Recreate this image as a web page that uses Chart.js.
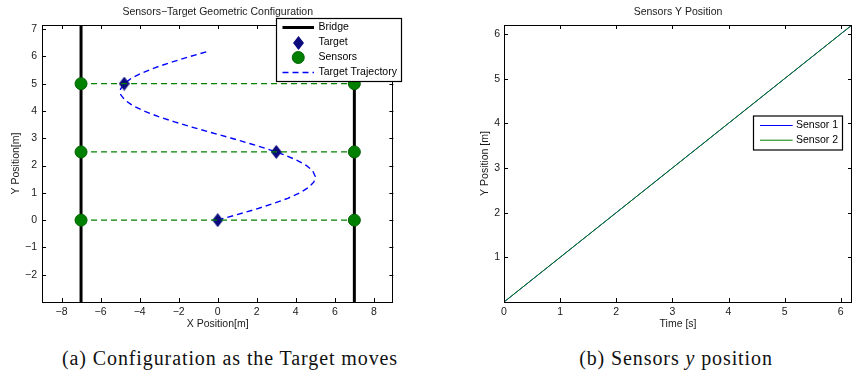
<!DOCTYPE html>
<html><head><meta charset="utf-8">
<script src="https://cdn.jsdelivr.net/npm/chart.js@4"></script>
<style>
html,body{margin:0;padding:0;background:#fff;width:853px;height:382px;overflow:hidden;}
#wrapA{position:absolute;left:0;top:0;width:430px;height:340px;}
#wrapB{position:absolute;left:430px;top:0;width:423px;height:340px;}
.cap{position:absolute;top:347px;width:400px;text-align:center;line-height:22px;font-family:"Liberation Serif","Times New Roman",serif;font-size:20px;letter-spacing:0.9px;color:#111;white-space:nowrap;}
</style></head><body>
<div id="wrapA"><canvas id="cA" width="430" height="340"></canvas></div>
<div id="wrapB"><canvas id="cB" width="423" height="340"></canvas></div>
<div class="cap" style="left:30px">(a) Configuration as the Target moves</div>
<div class="cap" style="left:476px">(b) Sensors <i>y</i> position</div>
<script>
// ---------- data ----------
// Left panel: geometric configuration
const bridgeX = [-7, 7];
const sensorX = [-7, 7];
const sensorY = [0, 2.5, 5];
const targetX = [0, 3, -4.79];
const targetY = [0, 2.5, 5];
const trajY = [0, 0.2, 0.4, 0.6, 0.8, 1.0, 1.2, 1.4, 1.6, 1.8, 2.0, 2.2, 2.4, 2.6, 2.8, 3.0,
               3.2, 3.4, 3.6, 3.8, 4.0, 4.2, 4.4, 4.6, 4.8, 5.0, 5.2, 5.4, 5.6, 5.8, 6.0, 6.2];
const trajX = [0, 0.99, 1.95, 2.82, 3.59, 4.21, 4.66, 4.93, 5.0, 4.87, 4.55, 4.04, 3.38, 2.58, 1.67, 0.71,
               -0.29, -1.28, -2.21, -3.06, -3.78, -4.36, -4.76, -4.97, -4.98, -4.79, -4.42, -3.86, -3.16, -2.32, -1.40, -0.42];
const xTicksA = [-8, -6, -4, -2, 0, 2, 4, 6, 8];
const yTicksA = [-2, -1, 0, 1, 2, 3, 4, 5, 6, 7];
const xMinA = -9, xMaxA = 9, yMinA = -3, yMaxA = 7.15;

// Right panel: sensors y position
const timeS = [0, 1, 2, 3, 4, 5, 6, 6.2];
const sensor1Y = [0, 1, 2, 3, 4, 5, 6, 6.2];
const sensor2Y = [0, 1, 2, 3, 4, 5, 6, 6.2];
const xTicksB = [0, 1, 2, 3, 4, 5, 6];
const yTicksB = [1, 2, 3, 4, 5, 6];
const xMinB = 0, xMaxB = 6.2, yMinB = 0, yMaxB = 6.2;

// ---------- styling ----------
const FONT = '"Liberation Sans", Arial, Helvetica, sans-serif';
const FS = 10.5;
Chart.defaults.font.family = FONT;
Chart.defaults.font.size = FS;
Chart.defaults.color = '#1a1a1a';
Chart.defaults.animation = false;

const fmt = v => v < 0 ? '\u2212' + Math.abs(v) : String(v);

function diamondImg(w, h, color) {
  const c = document.createElement('canvas');
  c.width = w; c.height = h;
  const g = c.getContext('2d');
  g.fillStyle = color;
  g.beginPath();
  g.moveTo(w / 2, 0); g.lineTo(w, h / 2); g.lineTo(w / 2, h); g.lineTo(0, h / 2);
  g.closePath(); g.fill();
  return c;
}
const DIAMOND = diamondImg(11, 14, '#0b0b7e');

const framePlugin = {
  id: 'mlFrame',
  afterDatasetsDraw(chart, args, opts) {
    const {ctx, chartArea: a} = chart;
    const sx = chart.scales.x, sy = chart.scales.y;
    const L = 4;
    ctx.save();
    ctx.strokeStyle = '#000';
    ctx.lineWidth = 1;
    ctx.beginPath();
    sx.ticks.forEach(t => {
      const p = Math.round(sx.getPixelForValue(t.value)) + 0.5;
      ctx.moveTo(p, a.bottom); ctx.lineTo(p, a.bottom - L);
      ctx.moveTo(p, a.top); ctx.lineTo(p, a.top + L);
    });
    sy.ticks.forEach(t => {
      const p = Math.round(sy.getPixelForValue(t.value)) + 0.5;
      ctx.moveTo(a.left, p); ctx.lineTo(a.left + L, p);
      ctx.moveTo(a.right, p); ctx.lineTo(a.right - L, p);
    });
    ctx.stroke();
    ctx.strokeRect(Math.round(a.left) + 0.5, Math.round(a.top) + 0.5,
                   Math.round(a.right) - Math.round(a.left) - 1, Math.round(a.bottom) - Math.round(a.top));
    ctx.restore();
  }
};

const legendPlugin = {
  id: 'mlLegend',
  afterDraw(chart, args, o) {
    if (!o || !o.box) return;
    const ctx = chart.ctx, b = o.box;
    ctx.save();
    ctx.fillStyle = '#fff';
    ctx.fillRect(b.x, b.y, b.w, b.h);
    ctx.strokeStyle = '#000';
    ctx.lineWidth = 1.2;
    ctx.strokeRect(b.x + 0.5, b.y + 0.5, b.w - 1, b.h - 1);
    ctx.font = FS + 'px ' + FONT;
    ctx.textBaseline = 'middle';
    o.items.forEach((idx, i) => {
      const ds = chart.data.datasets[idx];
      const y = b.y + o.firstRow + i * o.rowGap;
      const x0 = b.x + o.sampleX0, x1 = b.x + o.sampleX1, xm = (x0 + x1) / 2;
      if (ds.showLine) {
        ctx.save();
        ctx.strokeStyle = ds.borderColor;
        ctx.lineWidth = ds.borderWidth;
        ctx.setLineDash(ds.borderDash || []);
        ctx.beginPath(); ctx.moveTo(x0, y); ctx.lineTo(x1, y); ctx.stroke();
        ctx.restore();
      } else if (ds.pointStyle instanceof HTMLCanvasElement) {
        ctx.drawImage(ds.pointStyle, Math.round(xm - ds.pointStyle.width / 2), Math.round(y - ds.pointStyle.height / 2));
      } else {
        ctx.beginPath();
        ctx.arc(xm, y, ds.pointRadius, 0, Math.PI * 2);
        ctx.fillStyle = ds.backgroundColor; ctx.fill();
        ctx.lineWidth = ds.borderWidth; ctx.strokeStyle = ds.borderColor; ctx.stroke();
      }
      ctx.fillStyle = '#000';
      ctx.fillText(ds.label, b.x + o.textX, y);
    });
    ctx.restore();
  }
};

function fixedTicks(arr) {
  return s => { s.ticks = arr.map(v => ({value: v})); };
}

// ---------- left chart ----------
const pts = (xs, ys) => xs.map((x, i) => ({x: x, y: ys[i]}));

const dsA = [];
// 0: sensors (markers, on top)
dsA.push({
  label: 'Sensors', order: 0, showLine: false,
  data: sensorY.flatMap(y => sensorX.map(x => ({x: x, y: y}))),
  pointStyle: 'circle', pointRadius: 6, backgroundColor: '#008000', borderColor: '#006200', borderWidth: 1
});
// 1,2: bridge lines
bridgeX.forEach(bx => dsA.push({
  label: 'Bridge', order: 4, showLine: true,
  data: [{x: bx, y: yMinA}, {x: bx, y: yMaxA}],
  borderColor: '#000', borderWidth: 3, pointRadius: 0
}));
// 3: targets
dsA.push({
  label: 'Target', order: 2, showLine: false,
  data: pts(targetX, targetY),
  pointStyle: DIAMOND, pointRadius: 7
});
// 4: trajectory
dsA.push({
  label: 'Target Trajectory', order: 3, showLine: true,
  data: pts(trajX, trajY),
  borderColor: '#0000ff', borderWidth: 1.4, borderDash: [6, 4], pointRadius: 0, tension: 0
});
// 5..7: sensor dashed lines
sensorY.forEach(y => dsA.push({
  label: 'Sensor line', order: 1, showLine: true,
  data: [{x: sensorX[0], y: y}, {x: sensorX[1], y: y}],
  borderColor: '#008000', borderWidth: 1.2, borderDash: [6, 4], pointRadius: 0
}));

new Chart(document.getElementById('cA'), {
  type: 'scatter',
  data: {datasets: dsA},
  plugins: [framePlugin, legendPlugin],
  options: {
    responsive: false,
    layout: {padding: {left: 0, right: 36.6, top: 0, bottom: 0}},
    plugins: {
      legend: {display: false},
      tooltip: {enabled: false},
      title: {display: true, fullSize: false, text: 'Sensors\u2212Target Geometric Configuration',
              color: '#1a1a1a', font: {size: FS, weight: 'normal'}, padding: {top: 6, bottom: 6.4}},
      mlLegend: {box: {x: 276, y: 18, w: 126, h: 64}, items: [1, 3, 0, 4],
                 firstRow: 9.5, rowGap: 15, sampleX0: 6.5, sampleX1: 38, textX: 42.5}
    },
    scales: {
      x: {
        type: 'linear', min: xMinA, max: xMaxA,
        afterBuildTicks: fixedTicks(xTicksA),
        afterFit: s => { s.height = 38; },
        grid: {display: false, drawTicks: false}, border: {display: false},
        ticks: {padding: 3.4, callback: fmt, maxRotation: 0, autoSkip: false},
        title: {display: true, text: 'X Position[m]', padding: {top: 0, bottom: 9.4}}
      },
      y: {
        type: 'linear', min: yMinA, max: yMaxA,
        afterBuildTicks: fixedTicks(yTicksA),
        afterFit: s => { s.width = 42; },
        grid: {display: false, drawTicks: false}, border: {display: false},
        ticks: {padding: 5, callback: fmt, autoSkip: false},
        title: {display: true, text: 'Y Position[m]', padding: {top: 9.7, bottom: 0}}
      }
    }
  }
});

// ---------- right chart ----------
new Chart(document.getElementById('cB'), {
  type: 'scatter',
  data: {datasets: [
    {label: 'Sensor 1', order: 1, showLine: true, data: pts(timeS, sensor1Y),
     borderColor: '#0000ff', borderWidth: 1, pointRadius: 0},
    {label: 'Sensor 2', order: 0, showLine: true, data: pts(timeS, sensor2Y),
     borderColor: '#008000', borderWidth: 1, pointRadius: 0}
  ]},
  plugins: [framePlugin, legendPlugin],
  options: {
    responsive: false,
    layout: {padding: {left: 0, right: 1, top: 0, bottom: 0}},
    plugins: {
      legend: {display: false},
      tooltip: {enabled: false},
      title: {display: true, fullSize: false, text: 'Sensors Y Position',
              color: '#1a1a1a', font: {size: FS, weight: 'normal'}, padding: {top: 6, bottom: 6.4}},
      mlLegend: {box: {x: 323, y: 115.5, w: 90, h: 35}, items: [0, 1],
                 firstRow: 10, rowGap: 14.7, sampleX0: 7, sampleX1: 39.7, textX: 43}
    },
    scales: {
      x: {
        type: 'linear', min: xMinB, max: xMaxB,
        afterBuildTicks: fixedTicks(xTicksB),
        afterFit: s => { s.height = 38; },
        grid: {display: false, drawTicks: false}, border: {display: false},
        ticks: {padding: 3.4, callback: fmt, maxRotation: 0, autoSkip: false},
        title: {display: true, text: 'Time [s]', padding: {top: 0, bottom: 9.4}}
      },
      y: {
        type: 'linear', min: yMinB, max: yMaxB,
        afterBuildTicks: fixedTicks(yTicksB),
        afterFit: s => { s.width = 74; },
        grid: {display: false, drawTicks: false}, border: {display: false},
        ticks: {padding: 4, callback: fmt, autoSkip: false},
        title: {display: true, text: 'Y Position [m]', padding: {top: 48.7, bottom: 0}}
      }
    }
  }
});
</script>
</body></html>
